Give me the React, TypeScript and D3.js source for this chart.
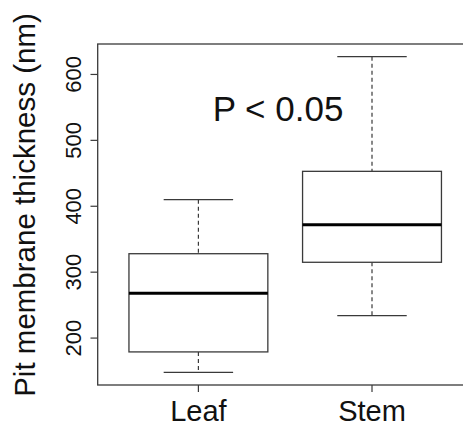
import React from "react";
import * as d3 from "d3";

const categories = ["Leaf", "Stem"];
const whiskerLow = [148, 234];
const q1 = [179, 315];
const median = [268, 372];
const q3 = [328, 453];
const whiskerHigh = [410, 627];
const yTicks = [200, 300, 400, 500, 600];
const annotation = "P < 0.05";
const yLabel = "Pit membrane thickness (nm)";

const W = 463;
const H = 426;
const FONT = "'Liberation Sans', Arial, Helvetica, sans-serif";

export default function App() {
  const y = d3.scaleLinear().domain([128.8, 646.2]).range([385, 44]);
  const x = d3.scaleLinear().domain([0.42, 2.58]).range([97.7, 472.7]);
  const boxW = x(0.4) - x(0);
  const capW = x(0.2) - x(0);
  const stroke = "#3a3a3a";

  return (
    <svg
      width={W}
      height={H}
      style={{ position: "absolute", left: 0, top: 0, background: "#fff" }}
      fontFamily={FONT}
    >
      <rect x={0} y={0} width={W} height={H} fill="#fff" />
      {categories.map((c, i) => {
        const cx = x(i + 1);
        return (
          <g key={c}>
            <line x1={cx} x2={cx} y1={y(whiskerHigh[i])} y2={y(q3[i])} stroke={stroke} strokeWidth={1.2} strokeDasharray="4,3" />
            <line x1={cx} x2={cx} y1={y(q1[i])} y2={y(whiskerLow[i])} stroke={stroke} strokeWidth={1.2} strokeDasharray="4,3" />
            <line x1={cx - capW} x2={cx + capW} y1={y(whiskerHigh[i])} y2={y(whiskerHigh[i])} stroke={stroke} strokeWidth={1.3} />
            <line x1={cx - capW} x2={cx + capW} y1={y(whiskerLow[i])} y2={y(whiskerLow[i])} stroke={stroke} strokeWidth={1.3} />
            <rect x={cx - boxW} y={y(q3[i])} width={boxW * 2} height={y(q1[i]) - y(q3[i])} fill="#fff" stroke={stroke} strokeWidth={1.3} />
            <line x1={cx - boxW} x2={cx + boxW} y1={y(median[i])} y2={y(median[i])} stroke="#000" strokeWidth={3} />
            <line x1={cx} x2={cx} y1={385} y2={392} stroke={stroke} strokeWidth={1.2} />
            <text x={cx} y={421} textAnchor="middle" fontSize={29} fill="#111">{c}</text>
          </g>
        );
      })}
      <rect x={97.7} y={44} width={375} height={341} fill="none" stroke={stroke} strokeWidth={1.3} />
      {yTicks.map((t) => (
        <g key={t}>
          <line x1={90.5} x2={97.7} y1={y(t)} y2={y(t)} stroke={stroke} strokeWidth={1.2} />
          <text
            transform={`translate(${81},${y(t)}) rotate(-90)`}
            textAnchor="middle"
            fontSize={22}
            fill="#111"
          >
            {t}
          </text>
        </g>
      ))}
      <text x={278} y={121} textAnchor="middle" fontSize={35} fill="#111">{annotation}</text>
      <text transform={`translate(35,205) rotate(-90)`} textAnchor="middle" fontSize={29.5} fill="#111">{yLabel}</text>
    </svg>
  );
}
